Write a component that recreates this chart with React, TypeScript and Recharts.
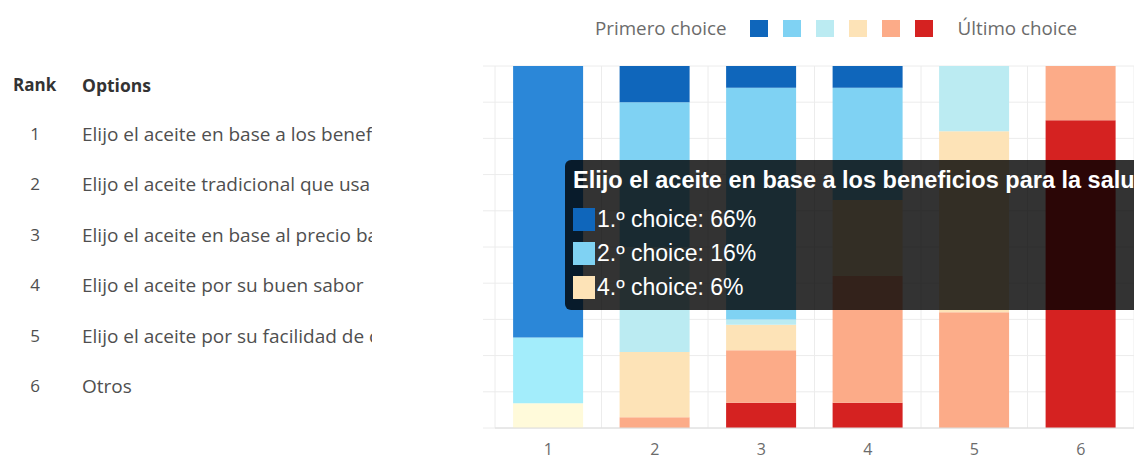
import React from 'react';
import {
  BarChart,
  Bar,
  XAxis,
  YAxis,
  CartesianGrid,
  Tooltip,
  Legend,
  Cell,
} from 'recharts';

// ---- data ----
const ranks = ['1', '2', '3', '4', '5', '6'];
const options = [
  'Elijo el aceite en base a los beneficios para la salud',
  'Elijo el aceite tradicional que usa mi familia',
  'Elijo el aceite en base al precio bajo',
  'Elijo el aceite por su buen sabor',
  'Elijo el aceite por su facilidad de compra',
  'Otros',
];
const seriesNames = ['1.º choice', '2.º choice', '3.º choice', '4.º choice', '5.º choice', '6.º choice'];
const choice1 = [66, 10, 6, 6, 0, 0];
const choice2 = [16, 40, 64, 31, 0, 0];
const choice3 = [0, 29, 1.5, 0, 18, 0];
const choice4 = [6, 18, 7, 21, 50, 0];
const choice5 = [0, 3, 14.5, 35, 32, 15];
const choice6 = [0, 0, 7, 7, 0, 85];
const yTicks = [0, 0.1, 0.2, 0.3, 0.4, 0.5, 0.6, 0.7, 0.8, 0.9, 1];
const legendFirst = 'Primero choice';
const legendLast = 'Último choice';
const headerRank = 'Rank';
const headerOptions = 'Options';
const hoveredIndex = 0;

// ---- styles ----
const colors = ['#0f66bb', '#7fd2f3', '#bbebf2', '#fde3b7', '#fcab88', '#d52221'];
const hoverColors = ['#2b87d8', '#a3edfb', '#bbebf2', '#fffada', '#fcab88', '#d52221'];
const allSeries = [choice1, choice2, choice3, choice4, choice5, choice6];
const keys = ['c1', 'c2', 'c3', 'c4', 'c5', 'c6'];

const data = ranks.map((r, i) => {
  const row: any = { rank: r };
  keys.forEach((k, s) => {
    row[k] = allSeries[s][i];
  });
  return row;
});

const uiFont = '"Open Sans", "Noto Sans", sans-serif';
const tipFont = '"Liberation Sans", Arial, sans-serif';

const LegendContent = () => (
  <div
    style={{
      display: 'flex',
      alignItems: 'center',
      fontFamily: uiFont,
      fontSize: 18.8,
      lineHeight: '22px',
      color: '#6b6b6b',
      whiteSpace: 'nowrap',
    }}
  >
    <span style={{ marginRight: 23 }}>{legendFirst}</span>
    {colors.map((c, i) => (
      <span
        key={i}
        style={{
          display: 'inline-block',
          width: 18,
          height: 17,
          background: c,
          marginRight: i === colors.length - 1 ? 25 : 15,
        }}
      />
    ))}
    <span>{legendLast}</span>
  </div>
);

const TooltipContent = (props: any) => {
  const { payload, label } = props;
  if (!payload || !payload.length) return null;
  const idx = ranks.indexOf(String(label));
  const items = keys
    .map((k, s) => {
      const p = payload.find((e: any) => e.dataKey === k);
      return { name: seriesNames[s], value: p ? p.value : 0, color: colors[s] };
    })
    .filter((e) => e.value > 0);
  return (
    <div
      style={{
        background: 'rgba(0,0,0,0.8)',
        borderRadius: 6,
        padding: '5px 8px 6px 8px',
        color: '#fff',
        fontFamily: tipFont,
        whiteSpace: 'nowrap',
      }}
    >
      <div style={{ fontWeight: 'bold', fontSize: 23.5, lineHeight: '30px', marginBottom: 7 }}>
        {idx >= 0 ? options[idx] : label}
      </div>
      {items.map((it, i) => (
        <div key={i} style={{ display: 'flex', alignItems: 'center', height: 34, fontSize: 23 }}>
          <span
            style={{
              display: 'inline-block',
              width: 22,
              height: 23,
              background: it.color,
              marginRight: 2,
            }}
          />
          <span>{`${it.name}: ${it.value}%`}</span>
        </div>
      ))}
    </div>
  );
};

const RankTable = () => (
  <div
    style={{
      position: 'absolute',
      left: 0,
      top: 0,
      width: 380,
      height: 460,
      fontFamily: uiFont,
      color: '#4f4f4f',
    }}
  >
    <div
      style={{
        position: 'absolute',
        top: 72,
        left: 13,
        fontWeight: 'bold',
        fontSize: 17,
        lineHeight: '26px',
        color: '#333',
      }}
    >
      {headerRank}
    </div>
    <div
      style={{
        position: 'absolute',
        top: 72,
        left: 82,
        fontWeight: 'bold',
        fontSize: 17.5,
        lineHeight: '26px',
        color: '#333',
      }}
    >
      {headerOptions}
    </div>
    {ranks.map((r, i) => (
      <React.Fragment key={r}>
        <div
          style={{
            position: 'absolute',
            top: 121 + i * 50.4,
            left: 20,
            width: 30,
            textAlign: 'center',
            fontSize: 17,
            lineHeight: '26px',
          }}
        >
          {r}
        </div>
        <div
          style={{
            position: 'absolute',
            top: 121 + i * 50.4,
            left: 82,
            width: 290,
            overflow: 'hidden',
            whiteSpace: 'nowrap',
            fontSize: 19,
            lineHeight: '26px',
          }}
        >
          {options[i]}
        </div>
      </React.Fragment>
    ))}
  </div>
);

export default function App() {
  return (
    <div
      style={{
        position: 'absolute',
        left: 0,
        top: 0,
        width: 1134,
        height: 460,
        overflow: 'hidden',
        background: '#fff',
      }}
    >
      <RankTable />
      <div style={{ position: 'absolute', left: 483, top: 0 }}>
        <BarChart
          width={651}
          height={460}
          data={data}
          stackOffset="expand"
          barCategoryGap="17%"
          margin={{ top: 66, right: 0, bottom: 2, left: 0 }}
        >
          <CartesianGrid
            stroke="#ececec"
            verticalCoordinatesGenerator={({ offset }: any) =>
              [...ranks, ''].map((_, i) => offset.left + (i * offset.width) / ranks.length)
            }
          />
          <XAxis
            dataKey="rank"
            height={30}
            tickLine={false}
            axisLine={{ stroke: '#dcdcdc' }}
            tick={{ fill: '#6b6b6b', fontSize: 16, fontFamily: uiFont }}
            tickMargin={10}
          />
          <YAxis
            width={12}
            domain={[0, 1]}
            ticks={yTicks}
            tickFormatter={() => ''}
            axisLine={false}
            tickSize={12}
            tickLine={{ stroke: '#ececec' }}
          />
          <Legend
            layout="horizontal"
            verticalAlign="middle"
            align="center"
            content={<LegendContent />}
            wrapperStyle={{ top: 17, left: 112, width: 'auto', height: 'auto' }}
          />
          <Tooltip
            active={true}
            defaultIndex={hoveredIndex}
            cursor={false}
            position={{ x: 82, y: 160 }}
            content={<TooltipContent />}
            isAnimationActive={false}
            wrapperStyle={{ zIndex: 10 }}
          />
          {[5, 4, 3, 2, 1, 0].map((s) => (
            <Bar
              key={keys[s]}
              dataKey={keys[s]}
              name={seriesNames[s]}
              stackId="a"
              fill={colors[s]}
              isAnimationActive={false}
            >
              {data.map((_, i) => (
                <Cell key={i} fill={i === hoveredIndex ? hoverColors[s] : colors[s]} />
              ))}
            </Bar>
          ))}
        </BarChart>
      </div>
    </div>
  );
}
